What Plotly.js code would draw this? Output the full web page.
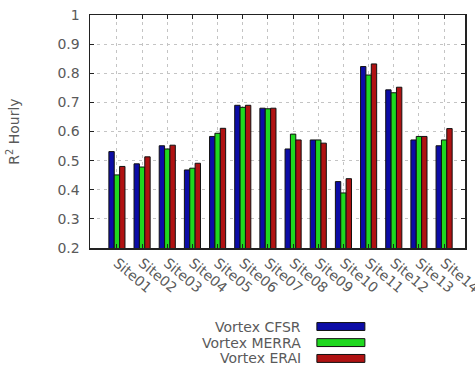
<!DOCTYPE html>
<html>
<head>
<meta charset="utf-8">
<script src="https://cdn.plot.ly/plotly-3.0.1.min.js"></script>
<style>html,body{margin:0;padding:0;background:#fff;}#chart{width:475px;height:378px;}</style>
</head>
<body>
<div id="chart"></div>
<script>
const categories = ["Site01","Site02","Site03","Site04","Site05","Site06","Site07","Site08","Site09","Site10","Site11","Site12","Site13","Site14"];
const seriesNames = ["Vortex CFSR","Vortex MERRA","Vortex ERAI"];
const cfsr  = [0.531,0.489,0.551,0.468,0.583,0.690,0.680,0.540,0.571,0.428,0.823,0.743,0.571,0.551];
const merra = [0.451,0.478,0.540,0.474,0.594,0.683,0.678,0.591,0.571,0.389,0.794,0.733,0.583,0.571];
const erai  = [0.480,0.513,0.553,0.491,0.611,0.690,0.680,0.571,0.560,0.438,0.832,0.752,0.583,0.610];
const colors = ["#0c0ca6","#1fd81f","#b01212"];
const yTicks = [0.2,0.3,0.4,0.5,0.6,0.7,0.8,0.9,1];
const yTickText = ["0.2","0.3","0.4","0.5","0.6","0.7","0.8","0.9","1"];

const seriesValues = [cfsr, merra, erai];
const idx = categories.map((c,i)=>i);
const traces = seriesValues.map((vals,k)=>({
  type:'bar', x: idx, y: vals, name: seriesNames[k],
  marker:{color: colors[k], line:{color:'#111', width:1}},
  showlegend:false
}));

const font = {family:'DejaVu Sans, sans-serif', size:14, color:'#5a5a5a'};
const annotations = [];
const shapes = [];
const legendY = [-0.337,-0.406,-0.474];
seriesNames.forEach((n,k)=>{
  annotations.push({xref:'paper', yref:'paper', x:0.568, y:legendY[k], text:n, showarrow:false,
    xanchor:'right', yanchor:'middle', font:font});
  shapes.push({type:'rect', xref:'paper', yref:'paper', x0:0.605, x1:0.733,
    y0:legendY[k]-0.017, y1:legendY[k]+0.017, fillcolor:colors[k], line:{color:'#111', width:1}});
});

const layout = {
  width:475, height:378,
  margin:{l:90, r:10, t:15, b:130},
  paper_bgcolor:'#fff', plot_bgcolor:'#fff',
  barmode:'group', bargap:0.36, bargroupgap:0,
  font:font,
  xaxis:{
    range:[-1.07, 13.83], tickmode:'array', tickvals:idx, ticktext:categories,
    tickangle:40, ticks:'inside', ticklen:4, tickcolor:'#222',
    ticklabeloverflow:'allow',
    showline:true, linecolor:'#222', linewidth:1.5, mirror:'ticks',
    showgrid:true, gridcolor:'#c4c4c4', griddash:'3px,4px', gridwidth:1,
    zeroline:false, tickfont:font
  },
  yaxis:{
    range:[0.2,1], tickmode:'array', tickvals:yTicks, ticktext:yTickText,
    ticks:'inside', ticklen:4, tickcolor:'#222', ticklabelstandoff:6,
    showline:true, linecolor:'#222', linewidth:1.5, mirror:'ticks',
    showgrid:true, gridcolor:'#c4c4c4', griddash:'3px,4px', gridwidth:1,
    zeroline:false, tickfont:font,
    title:{text:'R<sup>2</sup> Hourly', font:font, standoff:34}
  },
  annotations:annotations, shapes:shapes, showlegend:false
};
Plotly.newPlot('chart', traces, layout, {staticPlot:true, displayModeBar:false});
</script>
</body>
</html>
